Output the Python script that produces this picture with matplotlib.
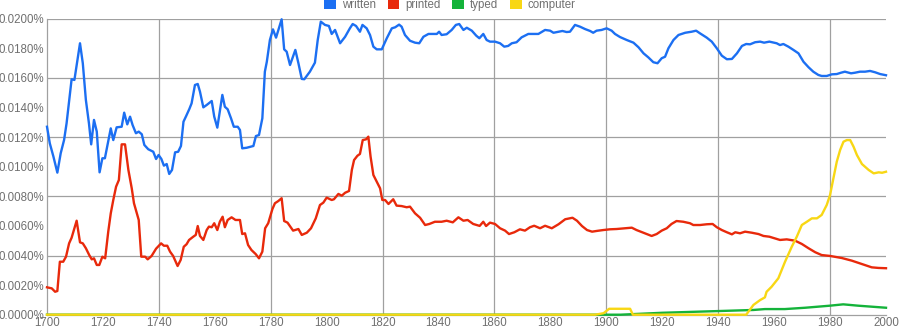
import matplotlib
matplotlib.use("Agg")
import matplotlib.pyplot as plt
from matplotlib.patches import Patch
from matplotlib.ticker import FuncFormatter, MultipleLocator

plt.rcParams['font.family'] = ['Liberation Sans', 'DejaVu Sans']

# --- DATA (values in percent) ---
labels = ["written", "printed", "typed", "computer"]
colors = ["#1c6ff2", "#e8290b", "#14b33a", "#f8d714"]

written_years = [
    1700, 1701, 1702.3, 1703.7, 1704.9, 1706.1, 1707, 1708.8, 1709.8, 1711.8,
    1712.8, 1713.9, 1715, 1715.8, 1716.8, 1717.8, 1718.8, 1719.8, 1720.7, 1722.8,
    1723.7, 1724.9, 1726.7, 1727.6, 1728.7, 1729.7, 1730.6, 1731.8, 1732.8, 1733.9,
    1734.8, 1736.2, 1738, 1739, 1739.9, 1740.9, 1741.8, 1742.8, 1743.7, 1744.7,
    1745.8, 1746.9, 1747.9, 1748.8, 1749.7, 1750.9, 1751.7, 1752.9, 1753.9, 1754.7,
    1755.9, 1757.1, 1758.9, 1759.8, 1760.9, 1762.7, 1763.6, 1764.6, 1765.8, 1766.8,
    1768.2, 1769, 1769.8, 1771.4, 1773.8, 1774.7, 1775.8, 1777, 1777.9, 1778.6,
    1779.7, 1780.8, 1781.9, 1783.9, 1784.8, 1785.7, 1786.9, 1788.8, 1789.9, 1791.1,
    1792, 1794, 1795.8, 1796.8, 1797.9, 1799.4, 1800.8, 1801.8, 1803, 1804.8,
    1806.6, 1808.3, 1809.3, 1810.5, 1811.9, 1812.8, 1814.3, 1815.5, 1816.7, 1817.9,
    1819.7, 1821.5, 1823.3, 1824.5, 1825.9, 1826.8, 1828, 1829.8, 1831.6, 1833.1,
    1834.6, 1836.4, 1838.1, 1839.4, 1840.2, 1841.1, 1842.9, 1844.7, 1846.2, 1847.4,
    1848.9, 1850.1, 1851.9, 1853.5, 1854.6, 1856, 1857.2, 1858.4, 1860.2, 1862,
    1863.5, 1864.9, 1866.2, 1867.9, 1869.7, 1872.1, 1873.9, 1875.7, 1878.1, 1879.9,
    1881.1, 1882.9, 1884.3, 1885.8, 1887, 1888.8, 1890.6, 1892.4, 1894.2, 1895.3,
    1896.5, 1898.3, 1900.1, 1901.9, 1903.1, 1904.9, 1907.3, 1909.7, 1911.5, 1913.3,
    1915, 1916.8, 1918.3, 1919.8, 1921, 1922.2, 1924, 1925.8, 1928.2, 1930.5,
    1932.1, 1933.5, 1935.9, 1937.7, 1939.5, 1941.3, 1943.1, 1944.9, 1946.7, 1948.5,
    1950, 1951.4, 1953.2, 1955, 1956.4, 1958.3, 1960.9, 1962.1, 1963.3, 1965.1,
    1966.9, 1968.7, 1970.5, 1972.3, 1974, 1975.8, 1977, 1978.8, 1980.6, 1982.4,
    1983.9, 1985.3, 1987.5, 1988.9, 1990.7, 1992.5, 1994.3, 1996.1, 1997.9, 2000,
]
written_vals = [
    0.01270, 0.01158, 0.01068, 0.00960, 0.01091, 0.01180, 0.01293, 0.01591, 0.01586, 0.01834,
    0.01699, 0.01451, 0.01293, 0.01151, 0.01316, 0.01237, 0.00962, 0.01057, 0.01057, 0.01259,
    0.01180, 0.01266, 0.01270, 0.01365, 0.01286, 0.01338, 0.01282, 0.01226, 0.01237, 0.01219,
    0.01147, 0.01118, 0.01101, 0.01052, 0.01079, 0.01052, 0.01007, 0.01018, 0.00951, 0.00978,
    0.01097, 0.01101, 0.01140, 0.01304, 0.01340, 0.01390, 0.01428, 0.01552, 0.01559, 0.01507,
    0.01401, 0.01417, 0.01444, 0.01338, 0.01264, 0.01485, 0.01405, 0.01388, 0.01327, 0.01270,
    0.01270, 0.01248, 0.01124, 0.01128, 0.01140, 0.01207, 0.01214, 0.01327, 0.01642, 0.01709,
    0.01856, 0.01928, 0.01872, 0.01996, 0.01793, 0.01777, 0.01687, 0.01789, 0.01699, 0.01593,
    0.01591, 0.01642, 0.01703, 0.01856, 0.01980, 0.01958, 0.01951, 0.01897, 0.01924, 0.01834,
    0.01878, 0.01935, 0.01964, 0.01951, 0.01912, 0.01958, 0.01935, 0.01890, 0.01811, 0.01793,
    0.01793, 0.01868, 0.01935, 0.01942, 0.01960, 0.01946, 0.01890, 0.01851, 0.01838, 0.01834,
    0.01878, 0.01897, 0.01897, 0.01897, 0.01912, 0.01890, 0.01895, 0.01924, 0.01958, 0.01964,
    0.01924, 0.01939, 0.01919, 0.01885, 0.01868, 0.01897, 0.01856, 0.01845, 0.01845, 0.01834,
    0.01811, 0.01816, 0.01834, 0.01841, 0.01874, 0.01897, 0.01897, 0.01897, 0.01924, 0.01919,
    0.01905, 0.01912, 0.01917, 0.01910, 0.01912, 0.01958, 0.01946, 0.01930, 0.01917, 0.01905,
    0.01919, 0.01924, 0.01935, 0.01919, 0.01897, 0.01876, 0.01856, 0.01838, 0.01807, 0.01766,
    0.01739, 0.01706, 0.01699, 0.01733, 0.01743, 0.01800, 0.01856, 0.01890, 0.01905, 0.01912,
    0.01919, 0.01901, 0.01872, 0.01845, 0.01800, 0.01750, 0.01726, 0.01728, 0.01766, 0.01816,
    0.01829, 0.01827, 0.01841, 0.01845, 0.01838, 0.01845, 0.01834, 0.01822, 0.01829, 0.01811,
    0.01789, 0.01766, 0.01709, 0.01672, 0.01642, 0.01620, 0.01613, 0.01613, 0.01624, 0.01626,
    0.01635, 0.01642, 0.01631, 0.01635, 0.01642, 0.01642, 0.01647, 0.01638, 0.01626, 0.01618,
]

printed_years = [
    1700, 1701.7, 1702.9, 1703.7, 1704.6, 1705.8, 1706.8, 1707.9, 1708.8, 1709.6,
    1710.6, 1711.8, 1712.8, 1713.9, 1715.1, 1716, 1716.8, 1717.8, 1718.7, 1719.8,
    1720.8, 1721.9, 1722.8, 1723.7, 1724.7, 1725.7, 1726.7, 1727.9, 1729.1, 1730.3,
    1731.1, 1732.1, 1732.8, 1733.7, 1735.1, 1736, 1737.4, 1739, 1740.8, 1741.8,
    1743, 1744, 1745.1, 1746.7, 1747.8, 1748.9, 1749.9, 1750.8, 1752.3, 1753.2,
    1753.9, 1754.7, 1755.9, 1757.1, 1757.9, 1758.9, 1759.8, 1760.9, 1761.8, 1762.8,
    1763.6, 1764.6, 1766, 1767.4, 1769, 1769.8, 1770.8, 1771.9, 1773.1, 1774.6,
    1775.8, 1777, 1778, 1779.1, 1780.6, 1781.5, 1782.7, 1783.9, 1784.8, 1786,
    1788, 1789.9, 1791.1, 1792.9, 1794.4, 1796.1, 1797.6, 1798.8, 1800, 1801.8,
    1802.6, 1804.2, 1805.4, 1806.6, 1808, 1809, 1809.8, 1811, 1811.9, 1812.9,
    1814.1, 1814.9, 1815.7, 1816.7, 1817.9, 1819.1, 1819.9, 1820.9, 1822.1, 1823.8,
    1825, 1826.8, 1828.6, 1829.8, 1831.6, 1833.4, 1835.2, 1836.7, 1838.7, 1841.1,
    1842.9, 1845.1, 1847.1, 1848.9, 1850.4, 1852.4, 1854.7, 1856, 1857, 1858.4,
    1860.2, 1862, 1863.8, 1865.2, 1867.1, 1869.1, 1870.9, 1872.7, 1874.2, 1876.3,
    1878.1, 1880.5, 1882.9, 1885.3, 1887.9, 1889.5, 1891.3, 1893.1, 1894.9, 1896.6,
    1898.9, 1901.3, 1903.7, 1906.5, 1909.1, 1910.8, 1913.2, 1916.2, 1918, 1919.8,
    1921.6, 1923.3, 1925.1, 1927.5, 1929.9, 1931.1, 1933.5, 1935.9, 1938, 1939.5,
    1941.3, 1943.1, 1944.9, 1946.1, 1947.8, 1949.6, 1952, 1954.4, 1956.2, 1958.3,
    1962.1, 1964.5, 1967.5, 1969.9, 1972.3, 1974.7, 1977, 1980, 1984.2, 1987.8,
    1991.3, 1994.9, 1997.3, 2000,
]
printed_vals = [
    0.00185, 0.00178, 0.00155, 0.00160, 0.00358, 0.00358, 0.00392, 0.00482, 0.00520, 0.00572,
    0.00635, 0.00489, 0.00482, 0.00449, 0.00403, 0.00374, 0.00381, 0.00336, 0.00336, 0.00392,
    0.00381, 0.00561, 0.00685, 0.00775, 0.00865, 0.00910, 0.01151, 0.01151, 0.00978, 0.00854,
    0.00753, 0.00685, 0.00640, 0.00392, 0.00392, 0.00374, 0.00397, 0.00446, 0.00482, 0.00466,
    0.00466, 0.00426, 0.00397, 0.00329, 0.00370, 0.00459, 0.00476, 0.00505, 0.00527, 0.00539,
    0.00599, 0.00532, 0.00505, 0.00572, 0.00595, 0.00591, 0.00618, 0.00572, 0.00628, 0.00662,
    0.00591, 0.00640, 0.00658, 0.00640, 0.00640, 0.00545, 0.00550, 0.00471, 0.00437, 0.00410,
    0.00381, 0.00426, 0.00584, 0.00618, 0.00714, 0.00753, 0.00768, 0.00787, 0.00633, 0.00622,
    0.00568, 0.00579, 0.00539, 0.00554, 0.00584, 0.00651, 0.00741, 0.00757, 0.00791, 0.00775,
    0.00780, 0.00816, 0.00804, 0.00824, 0.00836, 0.00978, 0.01045, 0.01074, 0.01086, 0.01180,
    0.01185, 0.01203, 0.01068, 0.00944, 0.00899, 0.00854, 0.00775, 0.00775, 0.00748, 0.00780,
    0.00737, 0.00734, 0.00726, 0.00730, 0.00685, 0.00655, 0.00606, 0.00613, 0.00628, 0.00628,
    0.00635, 0.00624, 0.00658, 0.00635, 0.00640, 0.00613, 0.00600, 0.00628, 0.00599, 0.00622,
    0.00613, 0.00584, 0.00568, 0.00545, 0.00557, 0.00577, 0.00568, 0.00591, 0.00601, 0.00584,
    0.00601, 0.00584, 0.00611, 0.00645, 0.00655, 0.00635, 0.00599, 0.00572, 0.00561, 0.00566,
    0.00572, 0.00577, 0.00579, 0.00584, 0.00588, 0.00572, 0.00554, 0.00532, 0.00545, 0.00568,
    0.00584, 0.00613, 0.00633, 0.00628, 0.00618, 0.00606, 0.00606, 0.00611, 0.00613, 0.00591,
    0.00572, 0.00557, 0.00543, 0.00557, 0.00550, 0.00561, 0.00554, 0.00545, 0.00532, 0.00527,
    0.00505, 0.00509, 0.00500, 0.00478, 0.00449, 0.00422, 0.00403, 0.00397, 0.00383, 0.00365,
    0.00343, 0.00320, 0.00316, 0.00314,
]

typed_years = [1700, 1905, 1920, 1940.7, 1952.6, 1956.7, 1963.8, 1971.1, 1980, 1984.7, 1990, 2000]
typed_vals = [0, 0, 0.00013, 0.00025, 0.00032, 0.00038, 0.00038, 0.00047, 0.00061, 0.00070, 0.00061, 0.00047]

computer_years = [
    1700, 1896, 1899, 1901, 1908.5, 1909.5, 1950, 1950.8, 1952.6, 1955,
    1956.7, 1957.3, 1959.1, 1961.5, 1963.9, 1966.3, 1968.1, 1969.9, 1971.7, 1973.5,
    1975.3, 1977, 1978.8, 1980, 1981.2, 1982.4, 1983.6, 1984.8, 1986, 1987.2,
    1988.4, 1989.6, 1991.4, 1993.8, 1995.6, 1997.4, 1998.6, 2000,
]
computer_vals = [
    0, 0, 0.0001, 0.0004, 0.0004, 0, 0, 0.0002, 0.00066, 0.00099,
    0.00117, 0.00155, 0.00189, 0.00246, 0.00358, 0.00459, 0.00527, 0.00606, 0.00628, 0.00651,
    0.00651, 0.00674, 0.00741, 0.00809, 0.00922, 0.01034, 0.01113, 0.01169, 0.01180, 0.01180,
    0.01135, 0.01079, 0.01018, 0.00978, 0.00955, 0.00962, 0.00959, 0.00966,
]

series = [
    (written_years, written_vals),
    (printed_years, printed_vals),
    (typed_years, typed_vals),
    (computer_years, computer_vals),
]

# --- PLOT ---
fig = plt.figure(figsize=(9, 3.3), dpi=100)
ax = fig.add_axes([47 / 900, 1 - 314.7 / 330, 839 / 900, 296 / 330])

grid_c = "#a0a0a0"
text_c = "#707070"

for (xs, ys), c in zip(series, colors):
    ax.plot(xs, ys, color=c, lw=1.7, solid_joinstyle='round', zorder=3, clip_on=False)

ax.set_xlim(1700, 2000)
ax.set_ylim(0, 0.02)

# grid: every 40 years / every 0.004%
for yr in range(1740, 2000, 40):
    ax.axvline(yr, color=grid_c, lw=0.9, zorder=1)
for v in [0.004, 0.008, 0.012, 0.016, 0.020]:
    ax.axhline(v, color=grid_c, lw=0.9, zorder=1)

for s in ["top", "right"]:
    ax.spines[s].set_visible(False)
for s in ["left", "bottom"]:
    ax.spines[s].set_color(grid_c)
    ax.spines[s].set_linewidth(0.9)

ax.xaxis.set_major_locator(MultipleLocator(20))
ax.yaxis.set_major_locator(MultipleLocator(0.002))
ax.yaxis.set_major_formatter(FuncFormatter(lambda v, p: f"{v:.4f}%"))
ax.tick_params(axis='both', length=0, labelsize=8.3, colors=text_c)
ax.tick_params(axis='x', pad=2)
ax.tick_params(axis='y', pad=2)

handles = [Patch(facecolor=c, edgecolor='none') for c in colors]
leg = fig.legend(handles, labels, ncol=4, loc='upper center',
                 bbox_to_anchor=(0.5, 1.0 + 1.5 / 330), frameon=False,
                 fontsize=8.3, handlelength=1.0, handleheight=1.0,
                 handletextpad=0.55, columnspacing=1.0, borderpad=0,
                 borderaxespad=0)
for t in leg.get_texts():
    t.set_color(text_c)

fig.savefig("out.png", dpi=100)
